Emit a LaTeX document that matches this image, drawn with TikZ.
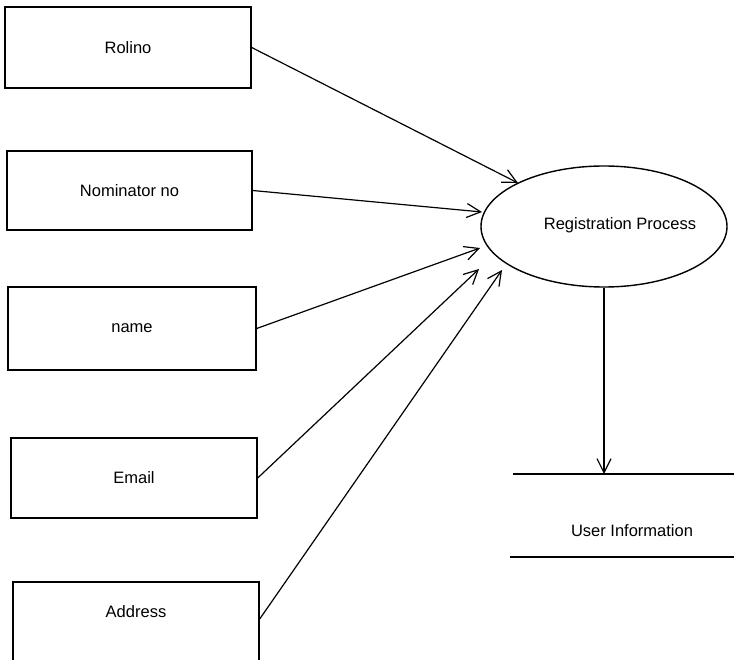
\documentclass[tikz,border=0pt]{standalone}
\usepackage{fontspec}
\setmainfont{Liberation Sans}
\usetikzlibrary{arrows.meta,shapes.geometric}
\begin{document}
\begin{tikzpicture}[x=1pt,y=-1pt,
  entity/.style={draw=black,line width=1.4pt,rectangle,inner sep=0pt,font=\fontsize{16.5}{19}\selectfont},
  proc/.style={draw=black,line width=1.4pt,ellipse,inner sep=0pt,minimum width=246pt,minimum height=121pt},
  lbl/.style={font=\fontsize{16.5}{19}\selectfont,inner sep=0pt},
  flow/.style={line width=1.2pt,-{Straight Barb[length=14pt,width=14pt,line width=1.2pt]}}]
\useasboundingbox (0,0) rectangle (734,660);
% entities
\node[entity,minimum width=246pt,minimum height=81pt] (rol) at (128,47.5) {Rolino};
\node[entity,minimum width=245pt,minimum height=79pt] (nom) at (129.5,190.5) {Nominator no};
\node[entity,minimum width=248pt,minimum height=83pt] (nam) at (132,328.5) {name};
\node[entity,minimum width=246pt,minimum height=80pt] (ema) at (134,478) {Email};
\node[entity,minimum width=246pt,minimum height=82pt,text depth=22pt] (adr) at (136,623) {Address};
% process
\node[proc] (pro) at (604,226.5) {};
\node[lbl] (prolbl) at (620,225) {Registration Process};
% data store
\coordinate (dsTL) at (513,474);
\coordinate (dsTR) at (734,474);
\coordinate (dsBL) at (510,557);
\coordinate (dsBR) at (734,557);
\node[lbl] (ds) at (632,531) {User Information};
\draw[line width=1.2pt] (dsTL) -- (dsTR);
\draw[line width=1.2pt] (dsBL) -- (dsBR);
% arrow ends
\coordinate (e1) at (518,183);
\coordinate (e2) at (482,212);
\coordinate (e3) at (480,248);
\coordinate (e4) at (479,269);
\coordinate (e5) at (502,270);
\draw[flow] (rol.east) -- (e1);
\draw[flow] (nom.east) -- (e2);
\draw[flow] (nam.east) -- (e3);
\draw[flow] (ema.east) -- (e4);
\draw[flow] ([yshift=4pt]adr.east) -- (e5);
\draw[flow] (pro.south) -- (pro.south |- dsTL);
\end{tikzpicture}
\end{document}
